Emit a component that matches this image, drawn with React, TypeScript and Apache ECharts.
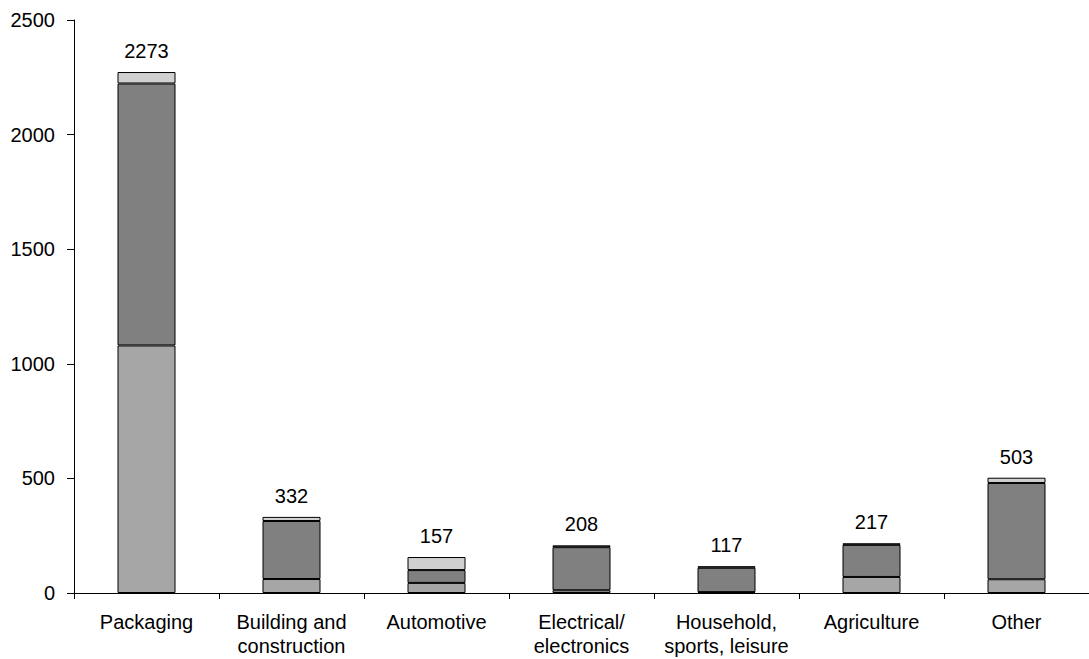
import React, { useEffect, useRef } from "react";
import * as echarts from "echarts";

const categories = [
  "Packaging",
  "Building and\nconstruction",
  "Automotive",
  "Electrical/\nelectronics",
  "Household,\nsports, leisure",
  "Agriculture",
  "Other",
];
const bottomValues = [1080, 61, 44, 12, 4, 70, 60];
const middleValues = [1143, 253, 56, 188, 106, 140, 420];
const topValues = [50, 18, 57, 8, 7, 7, 23];
const totals = [2273, 332, 157, 208, 117, 217, 503];
const yTicks = [0, 500, 1000, 1500, 2000, 2500];

export default function App() {
  const ref = useRef<HTMLDivElement>(null);
  useEffect(() => {
    document.body.style.margin = "0";
    if (!ref.current) return;
    const chart = echarts.init(ref.current, undefined, { renderer: "svg" });
    const font = "Liberation Sans, Arial, sans-serif";
    const barBase = {
      type: "bar",
      stack: "total",
      barWidth: "40%",
      itemStyle: { borderColor: "#000", borderWidth: 1 },
    };
    chart.setOption({
      animation: false,
      backgroundColor: "#fff",
      grid: { left: 74, width: 1025, top: 20, height: 573, containLabel: false },
      xAxis: {
        type: "category",
        data: categories,
        axisLine: { lineStyle: { color: "#000", width: 1 } },
        axisTick: { show: true, alignWithLabel: false, length: 6, lineStyle: { color: "#000" } },
        axisLabel: {
          color: "#000",
          fontFamily: font,
          fontSize: 20,
          margin: 17,
          lineHeight: 24,
          interval: 0,
        },
      },
      yAxis: {
        type: "value",
        min: yTicks[0],
        max: yTicks[yTicks.length - 1],
        interval: 500,
        axisLine: { show: true, lineStyle: { color: "#000", width: 1 } },
        axisTick: { show: true, length: 7, lineStyle: { color: "#000" } },
        splitLine: { show: false },
        axisLabel: {
          color: "#000",
          fontFamily: font,
          fontSize: 20,
          margin: 19,
          formatter: (v: number) => String(v),
        },
      },
      series: [
        { ...barBase, name: "a", data: bottomValues, itemStyle: { ...barBase.itemStyle, color: "#a6a6a6" } },
        { ...barBase, name: "b", data: middleValues, itemStyle: { ...barBase.itemStyle, color: "#808080" } },
        {
          ...barBase,
          name: "c",
          data: topValues,
          itemStyle: { ...barBase.itemStyle, color: "#d0d0d0" },
          label: {
            show: true,
            position: "top",
            distance: 11,
            color: "#000",
            fontFamily: font,
            fontSize: 20,
            formatter: (p: any) => String(totals[p.dataIndex]),
          },
        },
      ],
    });
    return () => chart.dispose();
  }, []);
  return <div ref={ref} style={{ width: 1089, height: 659 }} />;
}
